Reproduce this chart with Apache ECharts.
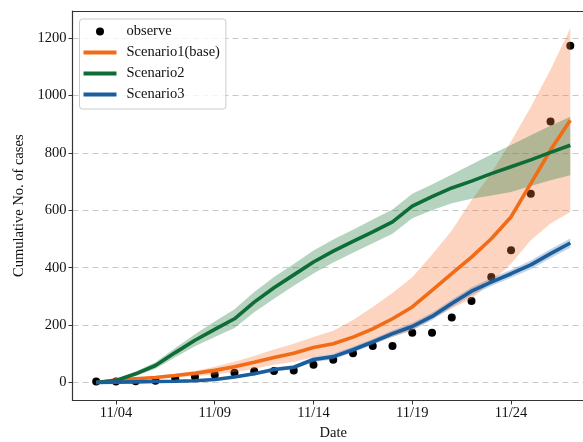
<!DOCTYPE html>
<html>
<head>
<meta charset="utf-8">
<script src="https://cdn.jsdelivr.net/npm/echarts@6/dist/echarts.min.js"></script>
<style>html,body{margin:0;padding:0;background:#fff;}#c{width:583px;height:442px;}</style>
</head>
<body>
<div id="c"></div>
<script>
// Day of November
const days = [3,4,5,6,7,8,9,10,11,12,13,14,15,16,17,18,19,20,21,22,23,24,25,26,27];
const xTickDays = [4,9,14,19,24];
const yTicks = [0,200,400,600,800,1000,1200];

const observed = [3,3,4,6,14,20,27,34,39,40,42,62,79,102,127,127,173,173,226,284,368,461,658,910,1174];

const s1Mean  = [0,8,13,17,24,32,42,55,70,87,102,122,135,158,187,222,263,321,379,437,501,577,693,810,914];
const s1Upper = [0,9,16,22,30,40,55,72,92,115,135,158,180,218,263,312,367,445,530,635,730,840,960,1090,1235];
const s1Lower = [0,6,11,14,18,22,28,36,48,62,72,88,100,118,136,158,181,222,258,292,350,414,496,554,594];

const s2Mean  = [0,7,30,59,104,147,185,222,280,330,375,420,458,492,525,560,615,648,678,702,728,752,776,802,827];
const s2Upper = [0,10,38,70,120,168,212,255,315,368,413,460,498,532,568,603,658,690,725,760,795,828,862,895,926];
const s2Lower = [0,4,22,48,88,126,158,190,245,292,337,380,418,452,485,518,572,600,625,640,652,664,685,705,722];

const s3Mean  = [0,1,2,3,4,6,10,19,30,45,53,80,90,114,141,170,195,230,275,318,350,379,410,449,486];
const s3Upper = [0,2,3,4,6,8,13,23,35,52,60,89,100,124,151,181,207,243,288,332,364,393,425,465,502];
const s3Lower = [0,0,1,2,3,4,7,15,25,38,46,71,80,104,131,159,183,217,262,304,336,365,395,433,470];

const C_OR = '#f26b16', C_GR = '#0e6d36', C_BL = '#1b5e9e';
const FONT = '"Liberation Serif", "DejaVu Serif", serif';

function pairs(arr){ return days.map((d,i)=>[d, arr[i]]); }

function bandSeries(name, upper, lower, fill, z){
  return {
    type: 'custom', name: name, z: z, silent: true,
    data: days.map((d,i)=>[d, lower[i], upper[i]]),
    renderItem: function(params, api){
      if (params.dataIndex !== 0) return null;
      const pts = [];
      for (let i=0;i<days.length;i++) pts.push(api.coord([days[i], upper[i]]));
      for (let i=days.length-1;i>=0;i--) pts.push(api.coord([days[i], lower[i]]));
      return { type:'polygon', shape:{points:pts}, style:{fill:fill, stroke:null} };
    }
  };
}

function lineSeries(name, arr, color){
  return {
    type:'line', name:name, data:pairs(arr), z:5, showSymbol:false, symbol:'none',
    lineStyle:{color:color, width:3.6}, itemStyle:{color:color}, silent:true
  };
}

const lineIcon = 'path://M0 0H33V4H0Z';

const chart = echarts.init(document.getElementById('c'), null, {renderer:'canvas'});
chart.setOption({
  animation:false,
  backgroundColor:'#fff',
  textStyle:{fontFamily:FONT},
  grid:{left:72.5, top:11, width:521.5, height:389.5, outerBoundsMode:'none', containLabel:false, show:false},
  legend:{
    orient:'vertical', left:79.5, top:19, selectedMode:false,
    padding:[5,6,7,4], itemGap:6, itemWidth:33, itemHeight:8,
    backgroundColor:'rgba(255,255,255,0.8)', borderColor:'#cccccc', borderWidth:1, borderRadius:3,
    textStyle:{fontFamily:FONT, fontSize:14.5, color:'#111', lineHeight:14, padding:[0,0,0,5]},
    data:[
      {name:'observe', icon:'circle', itemStyle:{color:'#000'}},
      {name:'Scenario1(base)', icon:lineIcon, itemStyle:{color:C_OR}},
      {name:'Scenario2', icon:lineIcon, itemStyle:{color:C_GR}},
      {name:'Scenario3', icon:lineIcon, itemStyle:{color:C_BL}}
    ]
  },
  xAxis:[{
    type:'value', min:1.8, max:28.2, position:'bottom',
    name:'Date', nameLocation:'middle', nameGap:25,
    nameTextStyle:{fontFamily:FONT, fontSize:14.5, color:'#111'},
    axisLine:{show:true, onZero:false, lineStyle:{color:'#333', width:1.2}},
    axisTick:{show:true, length:4, customValues:xTickDays, lineStyle:{color:'#333'}},
    axisLabel:{customValues:xTickDays, margin:5, fontFamily:FONT, fontSize:14.5, color:'#111',
      formatter:function(v){ return '11/' + (v<10?'0':'') + v; }},
    splitLine:{show:false}
  },{
    type:'value', min:1.8, max:28.2, position:'top',
    axisLine:{show:true, onZero:false, lineStyle:{color:'#333', width:1.2}},
    axisTick:{show:false}, axisLabel:{show:false}, splitLine:{show:false}
  }],
  yAxis:{
    type:'value', min:-63, max:1295,
    name:'Cumulative No. of cases', nameLocation:'middle', nameGap:42,
    nameTextStyle:{fontFamily:FONT, fontSize:14.5, color:'#111'},
    axisLine:{show:true, lineStyle:{color:'#333', width:1.2}},
    axisTick:{show:true, length:4, customValues:yTicks, lineStyle:{color:'#333'}},
    axisLabel:{customValues:yTicks, margin:6, fontFamily:FONT, fontSize:14.5, color:'#111',
      formatter:function(v){ return String(v); }},
    splitLine:{show:true, lineStyle:{color:'#c8c8c8', type:[6,4], width:1.1}}
  },
  series:[
    {type:'scatter', name:'observe', data:pairs(observed), symbolSize:8, z:1,
     itemStyle:{color:'#000', opacity:1}, silent:true},
    bandSeries('b1', s1Upper, s1Lower, 'rgba(245,120,60,0.32)', 2),
    bandSeries('b2', s2Upper, s2Lower, 'rgba(30,120,60,0.33)', 3),
    bandSeries('b3', s3Upper, s3Lower, 'rgba(60,110,170,0.3)', 4),
    lineSeries('Scenario1(base)', s1Mean, C_OR),
    lineSeries('Scenario2', s2Mean, C_GR),
    lineSeries('Scenario3', s3Mean, C_BL)
  ]
});
</script>
</body>
</html>
